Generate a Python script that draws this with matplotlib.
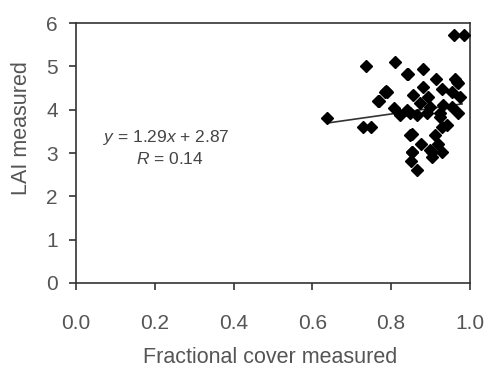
import matplotlib
matplotlib.use("Agg")
import matplotlib.pyplot as plt
import numpy as np

plt.rcParams['font.family'] = ['Liberation Sans', 'DejaVu Sans']
plt.rcParams['mathtext.fontset'] = 'custom'
plt.rcParams['mathtext.rm'] = 'Liberation Sans'
plt.rcParams['mathtext.it'] = 'Liberation Sans:italic'

frac_cover = [0.636, 0.735, 0.810, 0.729, 0.748, 0.787, 0.768, 0.841, 0.882, 0.960, 0.985,
              0.808, 0.856, 0.854, 0.852, 0.850, 0.865, 0.877, 0.903, 0.928, 0.915, 0.962,
              0.970, 0.882, 0.928, 0.954, 0.789, 0.894, 0.975, 0.839, 0.873, 0.898, 0.932,
              0.954, 0.924, 0.822, 0.865, 0.970, 0.848, 0.890, 0.924, 0.928, 0.911, 0.920,
              0.849, 0.898, 0.852, 0.903, 0.941, 0.784, 0.767, 0.966, 0.843]
lai = [3.80, 5.02, 5.11, 3.61, 3.61, 4.43, 4.21, 4.82, 4.93, 5.72, 5.72,
       4.03, 4.34, 3.43, 3.03, 2.82, 2.61, 3.22, 3.03, 3.03, 4.72, 4.72,
       4.61, 4.53, 4.49, 4.41, 4.41, 4.30, 4.30, 3.99, 4.15, 4.07, 4.11,
       4.07, 3.92, 3.88, 3.88, 3.92, 3.92, 3.92, 3.84, 3.61, 3.42, 3.22,
       3.42, 3.07, 3.03, 2.91, 3.65, 4.41, 4.21, 4.65, 4.82]

slope, intercept = 1.29, 2.87
fit_x = [0.64, 0.98]

x_ticks = [0.0, 0.2, 0.4, 0.6, 0.8, 1.0]
y_ticks = [0, 1, 2, 3, 4, 5, 6]

fig = plt.figure(figsize=(4.87, 3.67), dpi=100)
ax = fig.add_axes([0.156, 0.229, 0.809, 0.708])

ax.plot(frac_cover, lai, linestyle='none', marker='D', markersize=6,
        color='black', zorder=3)
fx = np.array(fit_x)
ax.plot(fx, slope * fx + intercept, color='#333333', linewidth=1.2, zorder=2)

ax.set_xlim(0, 1.0)
ax.set_ylim(0, 6)
ax.set_xticks(x_ticks)
ax.set_xticklabels([f"{v:.1f}" for v in x_ticks])
ax.set_yticks(y_ticks)
ax.set_yticklabels([str(v) for v in y_ticks])

for s in ax.spines.values():
    s.set_color('#333333')
    s.set_linewidth(1.2)
ax.tick_params(direction='out', length=5, width=1.2, color='#333333',
               labelsize=15, labelcolor='#555555')
ax.tick_params(axis='x', pad=17)
ax.tick_params(axis='y', pad=8)

ax.set_xlabel('Fractional cover measured', fontsize=15.5, color='#555555')
ax.xaxis.set_label_coords(0.492, -0.245)
ax.set_ylabel('LAI measured', fontsize=15.5, color='#555555')
ax.yaxis.set_label_coords(-0.112, 0.598)

ax.text(0.2297, 3.353, r'$\it{y}$ = 1.29$\it{x}$ + 2.87', ha='center', va='center',
        fontsize=12.5, color='#444444')
ax.text(0.237, 2.86, r'$\it{R}$ = 0.14', ha='center', va='center',
        fontsize=12.5, color='#444444')

fig.savefig('out.png', dpi=100)
